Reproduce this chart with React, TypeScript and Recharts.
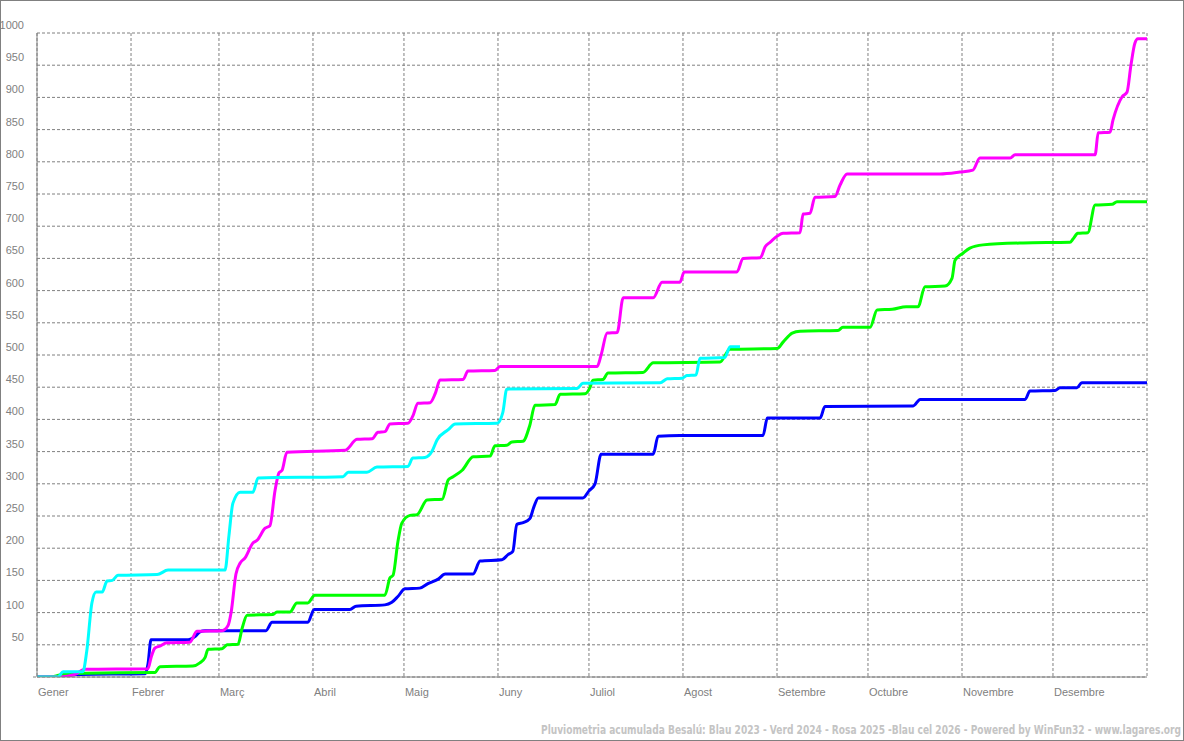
import { CartesianGrid, Line, LineChart, XAxis, YAxis } from "recharts";

// day-of-year (leap year, 0..366) and accumulated rain (mm)
const blau2023Days = [0, 5.9, 8.2, 14.1, 35.6, 36.6, 37.6, 49.8, 52.1, 53.7, 55.4, 75.5, 77.5, 89.3, 91.4, 103.2, 105.2, 114.7, 117.0, 119.0, 121.3, 126.2, 128.9, 132.3, 134.6, 143.8, 146.1, 153.3, 155.3, 156.9, 158.2, 160.5, 162.5, 163.9, 165.3, 180.0, 182.0, 184.0, 186.0, 203.2, 204.8, 212.0, 239.4, 240.8, 258.2, 259.8, 288.9, 291.2, 325.8, 327.4, 335.7, 337.3, 342.9, 344.5, 366];
const blau2023Vals = [0, 0, 3, 4, 5, 20, 58, 58, 63, 70, 72, 72, 85, 85, 105, 105, 110, 112, 116, 125, 137, 138, 145, 152, 160, 160, 180, 182, 190, 195, 237, 240, 246, 265, 278, 278, 289, 300, 346, 346, 374, 375, 375, 402, 402, 420, 421, 431, 431, 444, 445, 449, 449, 457, 457];

const verd2024Days = [0, 4.3, 7.6, 15.8, 38.9, 40.5, 51.4, 53.7, 55.4, 56.4, 61.0, 62.7, 66.3, 67.6, 69.3, 77.8, 79.1, 83.4, 85.7, 89.3, 91.6, 114.7, 116.4, 117.4, 119.0, 120.3, 123.0, 125.3, 128.6, 133.6, 135.6, 137.2, 140.2, 143.8, 149.4, 151.0, 154.9, 156.6, 160.2, 162.5, 164.2, 170.8, 172.5, 180.7, 182.3, 183.3, 186.6, 188.3, 199.8, 203.2, 225.2, 228.5, 244.0, 246.0, 249.0, 251.6, 264.1, 265.7, 274.7, 277.0, 282.0, 286.6, 290.5, 292.8, 299.4, 301.7, 302.7, 305.3, 307.6, 311.9, 325.1, 340.6, 341.6, 343.2, 346.5, 348.9, 354.5, 356.1, 366];
const verd2024Vals = [0, 0, 3, 6, 7, 16, 17, 22, 30, 43, 44, 50, 51, 75, 96, 97, 101, 101, 115, 115, 127, 127, 154, 158, 210, 239, 251, 252, 275, 276, 306, 311, 321, 342, 343, 359, 360, 365, 366, 391, 422, 423, 439, 440, 449, 461, 462, 472, 473, 488, 489, 509, 510, 520, 534, 537, 538, 543, 543, 570, 571, 575, 575, 606, 607, 619, 647, 658, 666, 671, 674, 675, 680, 689, 690, 733, 734, 738, 738];

const rosa2025Days = [0, 7.6, 12.5, 15.8, 36.6, 37.6, 38.9, 40.5, 42.8, 50.4, 52.7, 61.0, 63.0, 64.0, 65.6, 67.0, 68.6, 71.2, 72.5, 75.2, 76.8, 78.5, 79.8, 80.8, 82.4, 101.6, 105.5, 110.5, 112.4, 114.7, 116.4, 122.3, 123.9, 125.6, 129.6, 131.3, 132.9, 140.5, 142.1, 151.0, 152.7, 184.7, 186.0, 188.0, 191.3, 193.3, 203.2, 206.1, 212.0, 213.4, 230.8, 232.8, 238.5, 240.1, 241.7, 246.0, 251.6, 252.6, 254.9, 256.5, 263.1, 264.8, 267.1, 297.7, 304.3, 308.6, 310.9, 320.9, 322.5, 348.9, 349.9, 353.8, 354.8, 357.8, 359.4, 360.7, 362.0, 363.0, 366];
const rosa2025Vals = [0, 0, 4, 12, 13, 30, 45, 48, 53, 54, 71, 72, 80, 100, 160, 177, 185, 208, 212, 231, 235, 290, 317, 321, 349, 352, 369, 370, 380, 381, 393, 394, 405, 425, 426, 440, 461, 462, 475, 476, 482, 482, 500, 534, 535, 589, 589, 613, 613, 629, 629, 650, 651, 668, 675, 689, 690, 719, 720, 745, 746, 764, 781, 781, 784, 787, 806, 806, 811, 811, 845, 846, 865, 901, 908, 950, 984, 991, 991];

const blauCel2026Days = [0, 6.9, 8.6, 15.1, 16.4, 18.1, 19.5, 21.5, 23.1, 24.8, 26.7, 39.6, 43.2, 62.0, 63.3, 64.6, 67.0, 71.2, 72.9, 100.9, 102.6, 108.8, 112.1, 122.3, 123.9, 127.9, 130.3, 131.9, 135.6, 137.9, 151.7, 153.6, 154.9, 178.1, 180.0, 205.5, 207.8, 212.7, 214.3, 217.3, 218.6, 226.8, 228.5, 231.8];
const blauCel2026Vals = [0, 0, 8, 8, 40, 115, 132, 132, 149, 150, 158, 159, 166, 166, 220, 270, 287, 287, 309, 311, 318, 318, 326, 327, 340, 341, 351, 368, 384, 393, 394, 411, 447, 448, 456, 457, 463, 464, 468, 469, 495, 496, 513, 513];

const monthStarts = [0, 31, 60, 91, 121, 152, 182, 213, 244, 274, 305, 335, 366];
const monthNames = ["Gener", "Febrer", "Març", "Abril", "Maig", "Juny", "Juliol", "Agost", "Setembre", "Octubre", "Novembre", "Desembre", ""];
const yTicks = [0, 50, 100, 150, 200, 250, 300, 350, 400, 450, 500, 550, 600, 650, 700, 750, 800, 850, 900, 950, 1000];

const footer =
  "Pluviometria acumulada Besalú: Blau 2023 - Verd 2024 - Rosa 2025 -Blau cel 2026 - Powered by WinFun32 - www.lagares.org";

const toRows = (days: number[], vals: number[]) => days.map((d, i) => ({ d, v: vals[i] }));

const series = [
  { name: "Blau 2023", color: "#0000ff", data: toRows(blau2023Days, blau2023Vals) },
  { name: "Verd 2024", color: "#00ff00", data: toRows(verd2024Days, verd2024Vals) },
  { name: "Rosa 2025", color: "#ff00ff", data: toRows(rosa2025Days, rosa2025Vals) },
  { name: "Blau cel 2026", color: "#00ffff", data: toRows(blauCel2026Days, blauCel2026Vals) },
];

const GRAY = "#808080";
const FONT = "'Liberation Sans', Arial, sans-serif";

function YTick(props: any) {
  const { y, payload } = props;
  if (payload.value === 0) {
    return <line x1={33} x2={36} y1={y} y2={y} stroke={GRAY} />;
  }
  return (
    <text x={24} y={y - 4} textAnchor="end" fill={GRAY} fontSize={11} fontFamily={FONT}>
      {payload.value}
    </text>
  );
}

function XTick(props: any) {
  const { x, payload } = props;
  const label = monthNames[monthStarts.indexOf(payload.value)] ?? "";
  return (
    <text x={x + 1} y={696} textAnchor="start" fill={GRAY} fontSize={11} fontFamily={FONT}>
      {label}
    </text>
  );
}

export default function App() {
  return (
    <div
      style={{
        position: "absolute",
        left: 0,
        top: 0,
        width: 1184,
        height: 741,
        boxSizing: "border-box",
        border: `1px solid ${GRAY}`,
        background: "#fff",
      }}
    >
      <div style={{ position: "absolute", left: -1, top: -1 }}>
        <LineChart width={1184} height={741} margin={{ top: 33, right: 37, left: 0, bottom: 0 }}>
          <CartesianGrid stroke={GRAY} strokeDasharray="3 2" />
          <XAxis
            type="number"
            dataKey="d"
            domain={[0, 366]}
            ticks={monthStarts}
            height={64}
            axisLine={{ stroke: GRAY }}
            tickLine={false}
            tick={<XTick />}
            allowDataOverflow
          />
          <YAxis
            type="number"
            domain={[0, 1000]}
            ticks={yTicks}
            width={37}
            axisLine={{ stroke: GRAY }}
            tickLine={false}
            tick={<YTick />}
            allowDataOverflow
          />
          {series.map((s) => (
            <Line
              key={s.name}
              data={s.data}
              dataKey="v"
              name={s.name}
              type="monotone"
              stroke={s.color}
              strokeWidth={3}
              dot={false}
              activeDot={false}
              isAnimationActive={false}
            />
          ))}
        </LineChart>
        <svg width={1184} height={741} style={{ position: "absolute", left: 0, top: 0, pointerEvents: "none" }}>
          <text
            x={1181}
            y={734}
            textAnchor="end"
            fill="#c4c4c4"
            fontSize={11.5}
            fontWeight="bold"
            fontFamily="'DejaVu Sans Condensed', 'Liberation Sans', sans-serif"
            textLength={640}
            lengthAdjust="spacingAndGlyphs"
          >
            {footer}
          </text>
        </svg>
      </div>
    </div>
  );
}
